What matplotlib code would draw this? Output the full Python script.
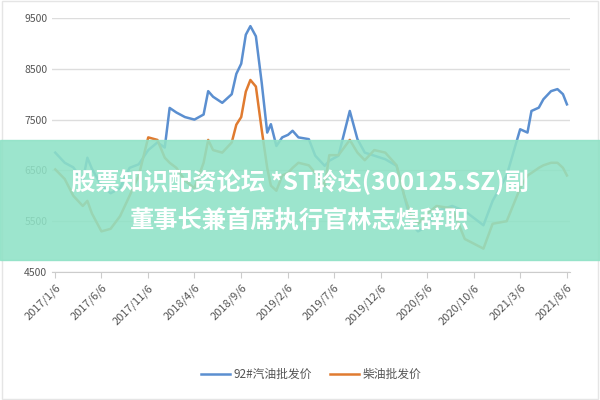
import matplotlib
matplotlib.use("Agg")
import matplotlib.pyplot as plt
import pandas as pd
from matplotlib.patches import Rectangle

plt.rcParams['font.family'] = ['Noto Sans CJK SC', 'DejaVu Sans']

dates = ["2017-01-06","2017-02-06","2017-03-06","2017-04-06","2017-04-21","2017-05-06","2017-06-06",
"2017-07-06","2017-08-06","2017-09-06","2017-10-06","2017-11-06","2017-12-06","2017-12-30",
"2018-01-15","2018-02-06","2018-03-06","2018-04-06","2018-05-06","2018-05-21","2018-06-06",
"2018-07-06","2018-08-06","2018-08-21","2018-09-06","2018-09-21","2018-10-06","2018-10-24",
"2018-11-12","2018-11-30","2018-12-12","2018-12-30","2019-01-18","2019-02-06","2019-02-21",
"2019-03-12","2019-04-15","2019-05-06","2019-06-06","2019-06-21","2019-07-21","2019-08-27",
"2019-09-21","2019-10-15","2019-11-15","2019-12-21","2020-01-27","2020-02-21","2020-03-15",
"2020-04-06","2020-05-06","2020-06-06","2020-07-27","2020-09-06","2020-11-06","2020-12-06",
"2021-01-21","2021-03-06","2021-03-30","2021-04-12","2021-05-06","2021-05-21","2021-06-15",
"2021-07-06","2021-07-24","2021-08-06"]
gasoline = [6850,6650,6560,6300,6750,6530,6200,6050,6150,6550,6620,6900,7050,6950,
7730,7640,7550,7500,7600,8060,7950,7830,8000,8400,8600,9170,9340,9140,
8225,7245,7410,6980,7150,7200,7280,7150,7115,6790,6590,6690,6790,7670,
7115,6850,6790,6720,6590,6000,5450,5300,5400,5700,5800,5700,5420,5900,
6400,7310,7245,7670,7735,7900,8060,8100,8000,7800]
diesel = [6520,6330,6000,5800,5900,5650,5300,5350,5600,6000,6400,7150,7100,6750,
6650,6550,6300,6150,6650,7100,6900,6850,7050,7400,7550,8050,8280,8150,
7300,6550,6200,6100,6400,6450,6550,6650,6600,6450,6200,6800,6800,7100,
6850,6700,6900,6850,6600,6000,5600,5450,5650,5800,5750,5150,4960,5450,
5500,6150,6400,6450,6550,6600,6650,6650,6550,6400]
tick_labels = ["2017/1/6","2017/6/6","2017/11/6","2018/4/6","2018/9/6","2019/2/6",
"2019/7/6","2019/12/6","2020/5/6","2020/10/6","2021/3/6","2021/8/6"]
yticks = [4500, 5500, 6500, 7500, 8500, 9500]
title_lines = ["股票知识配资论坛 *ST聆达(300125.SZ)副", "董事长兼首席执行官林志煌辞职"]

x = pd.to_datetime(dates)
fig = plt.figure(figsize=(6, 4), dpi=100)
ax = fig.add_axes([0.087, 0.32, 0.863, 0.635])
ax.plot(x, gasoline, color='#5b8fd0', lw=1.8, label='92#汽油批发价')
ax.plot(x, diesel, color='#e07b30', lw=1.8, label='柴油批发价')
ax.set_ylim(4500, 9500)
ax.set_yticks(yticks)
ax.set_yticklabels([str(v) for v in yticks], fontsize=7.5, color='#555555')
tk = pd.to_datetime([t.replace('/', '-') for t in tick_labels])
ax.set_xticks(tk)
ax.set_xticklabels(tick_labels, rotation=45, ha='right', rotation_mode='anchor', fontsize=8, color='#555555')
ax.set_xlim(tk[0] - pd.Timedelta(days=10), tk[-1] + pd.Timedelta(days=10))
ax.grid(axis='y', color='#dddddd', lw=1)
for s in ['top', 'right', 'left']:
    ax.spines[s].set_visible(False)
ax.spines['bottom'].set_color('#cccccc')
ax.tick_params(axis='y', length=0)
ax.tick_params(axis='x', color='#cccccc', length=4)
ax.legend(loc='center', bbox_to_anchor=(0.5, -0.405), ncol=2, frameon=False, fontsize=8.5,
          handlelength=2.5, columnspacing=1.5, handletextpad=0.3, labelcolor='#555555')

fig.patches.append(Rectangle((0, 0.35), 1, 0.3, transform=fig.transFigure,
                             color='#8fe2c6', alpha=0.88, zorder=5))
fig.text(0.5, 0.545, title_lines[0], ha='center', va='center', color='white', fontsize=17.5,
         fontweight='bold', zorder=6)
fig.text(0.5, 0.447, title_lines[1], ha='center', va='center', color='white', fontsize=17.5,
         fontweight='bold', zorder=6)
fig.patches.append(Rectangle((0.003, 0.003), 0.994, 0.994, transform=fig.transFigure,
                             fill=False, edgecolor='#e5e5e5', lw=1))
fig.savefig('out.png', dpi=100)
